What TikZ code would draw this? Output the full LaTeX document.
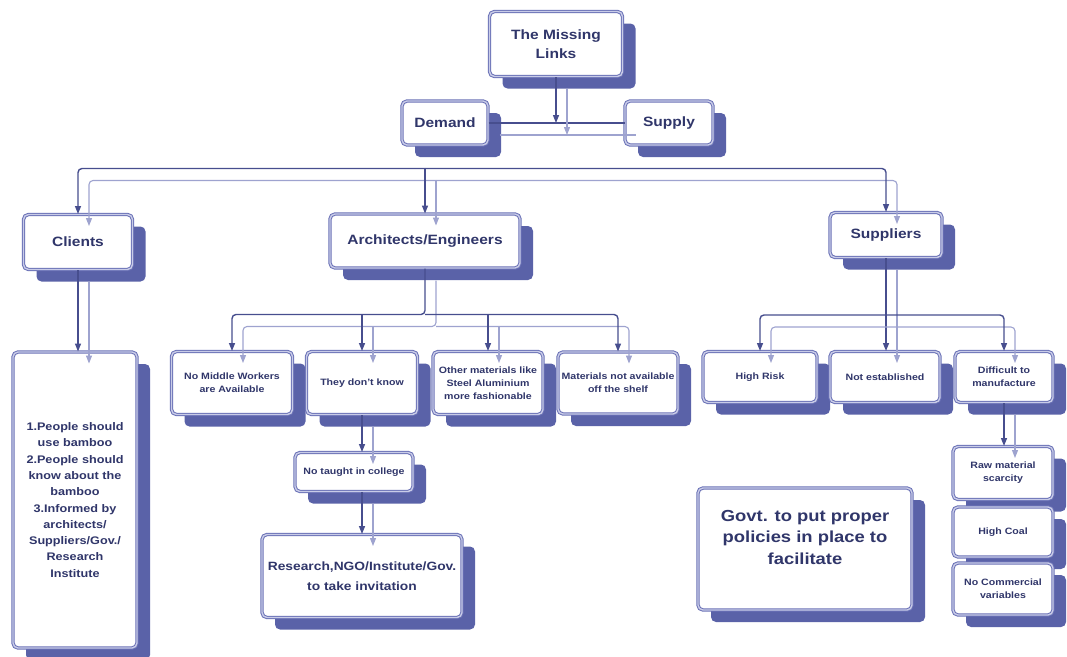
\documentclass[tikz,border=0pt]{standalone}
\usepackage{fontspec}
\setmainfont{Liberation Sans}[FakeStretch=1.15]
\usetikzlibrary{arrows.meta,shadows}
\definecolor{bord}{HTML}{6A71B6}
\definecolor{bordin}{HTML}{C9CCE8}
\definecolor{shade}{HTML}{5A62A8}
\definecolor{ink}{HTML}{30366A}
\definecolor{ldark}{HTML}{474E8E}
\definecolor{llite}{HTML}{9EA3CF}
\tikzset{
  box/.style={rectangle,rounded corners=5pt,draw=bord,line width=1pt,double=bordin,double distance=1.4pt,fill=white,text=ink,align=center,inner sep=2pt,
    drop shadow={shadow xshift=13pt,shadow yshift=-12pt,fill=shade,opacity=1}},
  big/.style={box,font=\fontsize{13.5}{19}\selectfont\bfseries},
  small/.style={box,font=\fontsize{9.2}{13}\selectfont\bfseries},
  wire/.style={line width=1.4pt,draw=ldark,rounded corners=4pt},
  wirelite/.style={line width=1.1pt,draw=llite,rounded corners=4pt},
  tip/.style={-{Triangle[length=8pt,width=6pt]}}
}
\newcommand\dlink[2][tip]{\draw[wirelite,#1,transform canvas={shift={(11pt,-12pt)}}] #2; \draw[wire,#1] #2;}
\begin{document}
\begin{tikzpicture}[x=1pt,y=-1pt]
  \useasboundingbox (0,0) rectangle (1067,656);
  \node[big,minimum width=133pt,minimum height=65pt] (ml) at (556,44) {The Missing\\Links};
  \node[big,minimum width=86pt,minimum height=44pt] (dem) at (445,123) {Demand};
  \node[big,minimum width=88pt,minimum height=44pt] (sup) at (669,123) {Supply};
  \node[big,minimum width=109pt,minimum height=55pt] (cli) at (78,242) {Clients};
  \node[big,minimum width=190pt,minimum height=54pt] (arc) at (425,241) {Architects/Engineers};
  \node[big,minimum width=112pt,minimum height=45pt] (spl) at (886,235) {Suppliers};
  \node[box,minimum width=124pt,minimum height=296pt,font=\fontsize{11}{16.3}\selectfont\bfseries] (cbody) at (75,500)
    {1.People should\\use bamboo\\2.People should\\know about the\\bamboo\\3.Informed by\\architects/\\Suppliers/Gov./\\Research\\Institute};
  \node[small,minimum width=121pt,minimum height=63pt] (nmw) at (232,383) {No Middle Workers\\are Available};
  \node[small,minimum width=111pt,minimum height=63pt] (tdk) at (362,383) {They don't know};
  \node[small,minimum width=110pt,minimum height=63pt] (oth) at (488,383) {Other materials like\\Steel Aluminium\\more fashionable};
  \node[small,minimum width=120pt,minimum height=62pt] (mat) at (618,383) {Materials not available\\off the shelf};
  \node[small,minimum width=118pt,minimum height=39pt] (ntc) at (354,472) {No taught in college};
  \node[box,minimum width=200pt,minimum height=83pt,font=\fontsize{12}{20}\selectfont\bfseries] (rng) at (362,576) {Research,NGO/Institute/Gov.\\to take invitation};
  \node[small,minimum width=114pt,minimum height=51pt] (hr) at (760,377) {High Risk};
  \node[small,minimum width=110pt,minimum height=51pt] (ne) at (885,377) {Not established};
  \node[small,minimum width=98pt,minimum height=51pt] (dtm) at (1004,377) {Difficult to\\manufacture};
  \node[small,minimum width=100pt,minimum height=53pt] (raw) at (1003,473) {Raw material\\scarcity};
  \node[small,minimum width=100pt,minimum height=50pt] (hc) at (1003,532) {High Coal};
  \node[small,minimum width=100pt,minimum height=52pt] (ncv) at (1003,589) {No Commercial\\variables};
  \node[box,minimum width=214pt,minimum height=122pt] (gov) at (805,549) {};
  \node[text=ink,align=center,font=\fontsize{16}{21.5}\selectfont\bfseries] (gtxt) at (805,537) {Govt. to put proper\\policies in place to\\facilitate};
  \path (arc.north) ++(0,-45) coordinate (bus);
  \path (arc.south) ++(0,46) coordinate (abus);
  \path (spl.south) ++(0,57) coordinate (sbus);
  \dlink[]{(dem.east) -- (dem.east -| sup.west)}
  \dlink{(ml.south) -- (ml.south |- dem.east)}
  \dlink{(bus) -| (cli.north)}
  \dlink{(bus) -| (spl.north)}
  \dlink{(bus) -- (arc.north)}
  \dlink{(cli.south) -- (cli.south |- cbody.north)}
  \dlink{(arc.south) -- (abus) -| (nmw.north)}
  \dlink{(abus) -| (mat.north)}
  \dlink{(abus -| tdk.north) -- (tdk.north)}
  \dlink{(abus -| oth.north) -- (oth.north)}
  \dlink{(tdk.south) -- (tdk.south |- ntc.north)}
  \dlink{(tdk.south |- ntc.south) -- (tdk.south |- rng.north)}
  \dlink{(spl.south) -- (spl.south |- ne.north)}
  \dlink{(sbus) -| (hr.north)}
  \dlink{(sbus) -| (dtm.north)}
  \dlink{(dtm.south) -- (dtm.south |- raw.north)}
\end{tikzpicture}
\end{document}
